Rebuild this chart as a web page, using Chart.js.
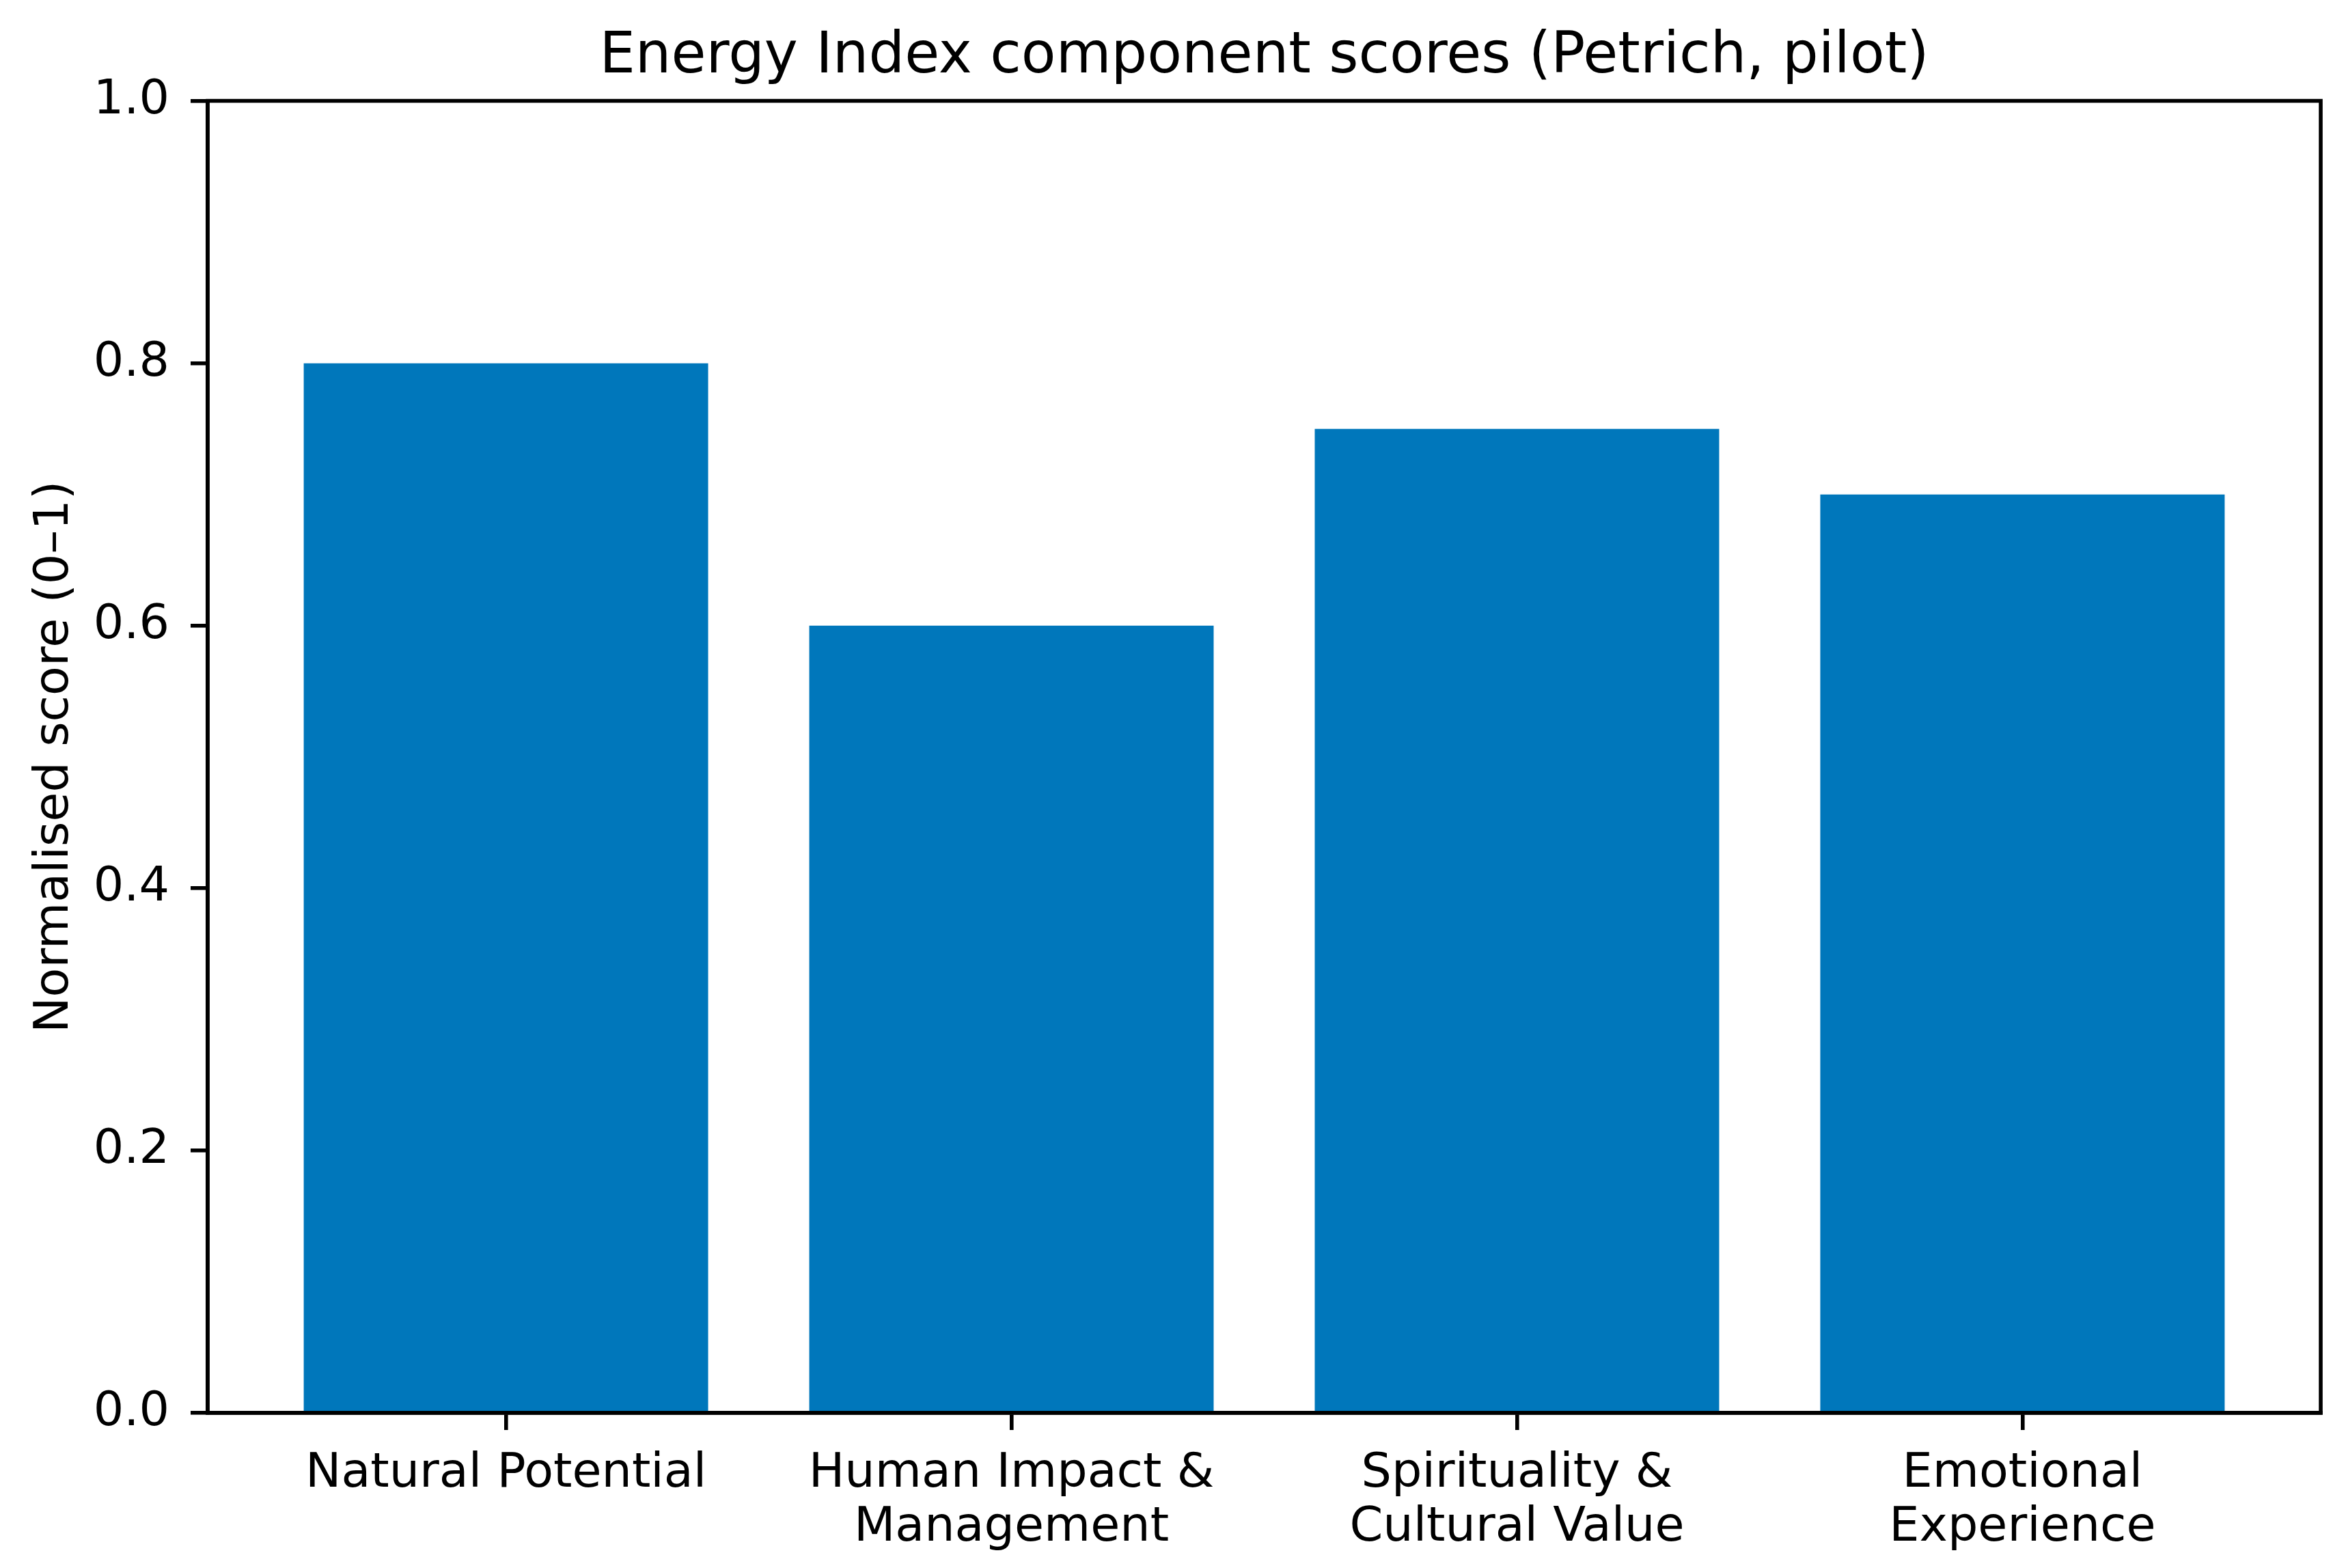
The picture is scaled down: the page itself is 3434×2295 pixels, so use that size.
<!DOCTYPE html>
<html>
<head>
<meta charset="utf-8">
<script src="https://cdn.jsdelivr.net/npm/chart.js@4"></script>
<style>
  html, body { margin: 0; padding: 0; background: #fff; }
  #wrap { width: 3434px; height: 2295px; }
</style>
</head>
<body>
<div id="wrap"><canvas id="myChart" width="3434" height="2295"></canvas></div>
<script>
// component names, one entry per bar (arrays = line breaks)
const categories = [
    ['Natural Potential'],
    ['Human Impact &', 'Management'],
    ['Spirituality &', 'Cultural Value'],
    ['Emotional', 'Experience']
];
const scores = [0.8, 0.6, 0.75, 0.7];
const yTicks = [0.0, 0.2, 0.4, 0.6, 0.8, 1.0];

const ctx = document.getElementById('myChart').getContext('2d');

// matplotlib-like box around the plot area
const frame = {
    id: 'frame',
    afterDatasetsDraw(chart) {
        const a = chart.chartArea;
        const c = chart.ctx;
        c.save();
        c.strokeStyle = '#000';
        c.lineWidth = 5.6;
        c.strokeRect(a.left, a.top, a.right - a.left, a.bottom - a.top);
        c.restore();
    }
};

new Chart(ctx, {
    type: 'bar',
    data: {
        datasets: [{
            label: 'score',
            data: scores.map((v, i) => ({ x: i, y: v })),
            backgroundColor: '#0077BB',
            borderWidth: 0,
            categoryPercentage: 0.8,
            barPercentage: 1.0
        }]
    },
    options: {
        responsive: false,
        devicePixelRatio: 1,
        animation: false,
        layout: { padding: { left: 0, right: 37, top: 0, bottom: 0 } },
        plugins: {
            legend: { display: false },
            tooltip: { enabled: false },
            title: {
                display: true,
                fullSize: false,   // centre over the plot area like matplotlib
                text: 'Energy Index component scores (Petrich, pilot)',
                color: '#000',
                font: { family: 'DejaVu Sans', size: 83, weight: 'normal', lineHeight: 1.2 },
                padding: { top: 35, bottom: 13 }
            }
        },
        scales: {
            x: {
                type: 'linear',
                offset: false,
                min: -0.59,
                max: 3.59,
                afterBuildTicks: scale => {
                    scale.ticks = categories.map((c, i) => ({ value: i }));
                },
                afterFit: scale => { scale.height = 227; },
                ticks: {
                    color: '#000',
                    font: { family: 'DejaVu Sans', size: 70, lineHeight: 1.13 },
                    padding: 25,
                    maxRotation: 0,
                    autoSkip: false,
                    callback: (value) => categories[value]
                },
                grid: {
                    offset: false,
                    drawOnChartArea: false,
                    drawTicks: true,
                    tickLength: 25,
                    color: '#000',
                    lineWidth: 5.6
                },
                border: { display: true, color: '#000', width: 5.6 }
            },
            y: {
                min: 0,
                max: 1,
                afterBuildTicks: scale => {
                    scale.ticks = yTicks.map(v => ({ value: v }));
                },
                afterFit: scale => { scale.width = 304; },
                ticks: {
                    color: '#000',
                    font: { family: 'DejaVu Sans', size: 70 },
                    padding: 31,
                    callback: (value) => value.toFixed(1)
                },
                grid: {
                    drawOnChartArea: false,
                    drawTicks: true,
                    tickLength: 25,
                    color: '#000',
                    lineWidth: 5.6
                },
                border: { display: true, color: '#000', width: 5.6 },
                title: {
                    display: true,
                    text: 'Normalised score (0–1)',
                    color: '#000',
                    font: { family: 'DejaVu Sans', size: 70, lineHeight: 1.2 },
                    padding: { top: 39, bottom: 0 }
                }
            }
        }
    },
    plugins: [frame]
});
</script>
</body>
</html>
